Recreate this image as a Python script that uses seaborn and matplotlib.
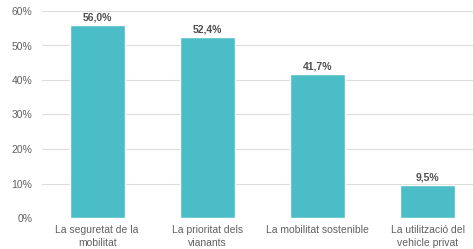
import matplotlib
matplotlib.use("Agg")
import matplotlib.pyplot as plt
import seaborn as sns
import pandas as pd

categories = ["La seguretat de la\nmobilitat", "La prioritat dels\nvianants",
              "La mobilitat sostenible", "La utilització del\nvehicle privat"]
values = [0.560, 0.524, 0.417, 0.095]
yticks = [0, 0.1, 0.2, 0.3, 0.4, 0.5, 0.6]

sns.set_style("white")
plt.rcParams['font.family'] = ['Liberation Sans', 'DejaVu Sans']

df = pd.DataFrame({"cat": categories, "val": values})

fig = plt.figure(figsize=(4.73, 2.49), dpi=100)
ax = fig.add_axes([42 / 473, 31 / 249, 1 - 42 / 473, (218 - 11) / 249])

sns.barplot(data=df, x="cat", y="val", color="#4BBDC6", width=0.5, ax=ax,
            saturation=1)

ax.set_ylim(0, 0.6)
ax.set_xlim(-0.5, 3.41)
ax.set_yticks(yticks)
ax.set_yticklabels([f"{int(round(t * 100))}%" for t in yticks])
ax.set_xticks(range(len(categories)), categories, linespacing=1.35)
ax.yaxis.grid(True, color="#dcdcdc", linewidth=0.8)
ax.set_axisbelow(True)
for s in ax.spines.values():
    s.set_visible(False)
ax.tick_params(axis="both", length=0, labelsize=7.5, colors="#606060")
ax.tick_params(axis="y", pad=7)
ax.tick_params(axis="x", pad=5)
ax.set_xlabel("")
ax.set_ylabel("")

for i, v in enumerate(values):
    ax.text(i, v + 0.008, f"{v * 100:.1f}%".replace(".", ","), ha="center",
            va="bottom", fontsize=7.5, color="#505050", fontweight="bold")

fig.savefig("out.png", dpi=100)
